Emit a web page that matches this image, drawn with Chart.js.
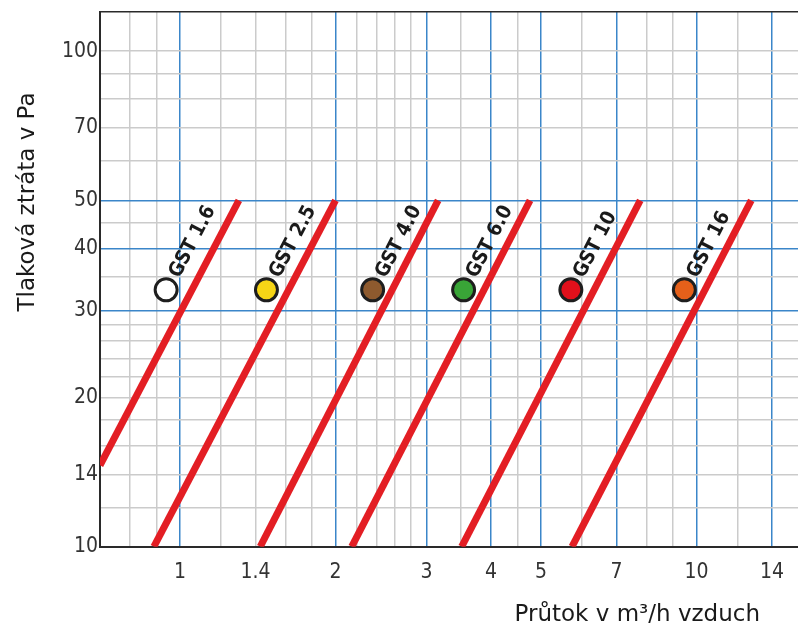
<!DOCTYPE html>
<html><head><meta charset="utf-8">
<script src="https://cdn.jsdelivr.net/npm/chart.js@4.4.1/dist/chart.umd.min.js"></script>
<style>
html,body{margin:0;padding:0;background:#fff;overflow:hidden;width:798px;height:628px;}
#c{display:block;}
</style></head><body>
<canvas id="c" width="802" height="628" style="width:802px;height:628px;"></canvas>
<script>
// ---- data ----
const seriesNames = ['GST 1.6','GST 2.5','GST 4.0','GST 6.0','GST 10','GST 16'];
const flowLow   = [0.7, 0.89, 1.43, 2.15, 3.51, 5.74];
const pressLow  = [14.6, 10, 10, 10, 10, 10];
const flowHigh  = [1.3, 2.0, 3.16, 4.76, 7.78, 12.76];
const pressHigh = [50, 50, 50, 50, 50, 50];
const markerFlow  = [0.94, 1.47, 2.36, 3.54, 5.71, 9.47];
const markerPress = [33, 33, 33, 33, 33, 33];
const markerColors = ['#ffffff','#f6d516','#8e5a2e','#39a537','#e1101b','#e5601a'];
const xTickLabels = [1, 1.4, 2, 3, 4, 5, 7, 10, 14];
const xGridMajor  = [1, 2, 3, 4, 5, 7, 10, 14];
const xGridMinor  = [0.8, 0.9, 1.2, 1.4, 1.6, 1.8, 2.2, 2.4, 2.6, 2.8, 3.5, 4.5, 6, 8, 9, 12];
const yTickLabels = [10, 14, 20, 30, 40, 50, 70, 100];
const yGridMajor  = [30, 40, 50];
const yGridMinor  = [12, 14, 16, 18, 20, 22, 24, 26, 28, 35, 45, 60, 70, 80, 90, 100];
const xTitle = 'Průtok v m³/h vzduch';
const yTitle = 'Tlaková ztráta v Pa';

// ---- styles ----
const BLUE = '#3b86c9', GRAY = '#cbcbcb', DARK = '#2a2a2a', RED = '#e31e24';
const tickFont = {family: "'DejaVu Sans Condensed','DejaVu Sans'", size: 21};

const lineDatasets = seriesNames.map((n, i) => ({
  type: 'line', label: n,
  data: [{x: flowLow[i], y: pressLow[i]}, {x: flowHigh[i], y: pressHigh[i]}],
  borderColor: RED, borderWidth: 7, borderCapStyle: 'butt',
  pointRadius: 0, fill: false, clip: 0, order: 2
}));
const markerDataset = {
  type: 'scatter', label: 'markers',
  data: markerFlow.map((x, i) => ({x, y: markerPress[i]})),
  pointRadius: 11, pointHoverRadius: 11,
  pointBackgroundColor: markerColors, pointBorderColor: '#1e1e1e', pointBorderWidth: 3,
  order: 1
};

function gridTicks(minor, major, extra) {
  return [...minor, ...major, ...extra].sort((a, b) => a - b).map(v => ({value: v}));
}

const labelPlugin = {
  id: 'gstLabels',
  afterDatasetsDraw(chart) {
    const ctx = chart.ctx;
    const mMeta = chart.getDatasetMeta(seriesNames.length);
    ctx.save();
    ctx.fillStyle = '#1a1a1a';
    ctx.font = "bold 20px 'DejaVu Sans Condensed','DejaVu Sans'";
    ctx.textAlign = 'left';
    ctx.textBaseline = 'alphabetic';
    seriesNames.forEach((n, i) => {
      const lm = chart.getDatasetMeta(i).data;
      const ang = Math.atan2(lm[1].y - lm[0].y, lm[1].x - lm[0].x);
      const p = mMeta.data[i];
      ctx.save();
      ctx.translate(p.x + 13, p.y - 11);
      ctx.rotate(ang);
      ctx.fillText(n, 0, 0);
      ctx.restore();
    });
    ctx.restore();
  }
};

const titlePlugin = {
  id: 'axisTitles',
  afterDraw(chart) {
    const {ctx, chartArea} = chart;
    ctx.save();
    ctx.fillStyle = '#1a1a1a';
    ctx.font = "23px 'DejaVu Sans'";
    ctx.textBaseline = 'alphabetic';
    ctx.textAlign = 'right';
    ctx.fillText(xTitle, chartArea.right - 42, 621);
    ctx.translate(34, 202);
    ctx.rotate(-Math.PI / 2);
    ctx.textAlign = 'center';
    ctx.fillText(yTitle, 0, 0);
    ctx.restore();
  }
};

new Chart(document.getElementById('c'), {
  data: {datasets: [...lineDatasets, markerDataset]},
  options: {
    responsive: false, maintainAspectRatio: false, animation: false, devicePixelRatio: 1,
    layout: {autoPadding: false, padding: {top: 12, right: 0, left: 0, bottom: 0}},
    plugins: {legend: {display: false}, tooltip: {enabled: false}},
    events: [],
    scales: {
      x: {
        type: 'logarithmic', min: 0.7, max: 16,
        afterBuildTicks: s => { s.ticks = gridTicks(xGridMinor, xGridMajor, []); },
        afterFit: s => { s.height = 81.3; s.paddingLeft = 0; s.paddingRight = 0; },
        grid: {
          drawTicks: false, lineWidth: 1.5,
          color: c => (c.tick && xGridMajor.includes(c.tick.value)) ? BLUE : GRAY
        },
        border: {color: DARK, width: 2},
        ticks: {
          autoSkip: false, maxRotation: 0, padding: 13, color: '#333', font: tickFont,
          callback: v => xTickLabels.includes(v) ? String(v) : ''
        }
      },
      y: {
        type: 'logarithmic', min: 10, max: 120,
        afterBuildTicks: s => { s.ticks = gridTicks(yGridMinor, yGridMajor, [10, 120]); },
        afterFit: s => { s.width = 100; s.paddingTop = 0; s.paddingBottom = 0; },
        grid: {
          drawTicks: false, lineWidth: 1.5,
          color: c => {
            if (!c.tick) return GRAY;
            if (c.tick.value === 120 || c.tick.value === 10) return DARK;
            return yGridMajor.includes(c.tick.value) ? BLUE : GRAY;
          }
        },
        border: {color: DARK, width: 2},
        ticks: {
          autoSkip: false, padding: 2, color: '#333', font: tickFont,
          callback: v => yTickLabels.includes(v) ? String(v) : ''
        }
      }
    }
  },
  plugins: [labelPlugin, titlePlugin]
});
</script>
</body></html>
